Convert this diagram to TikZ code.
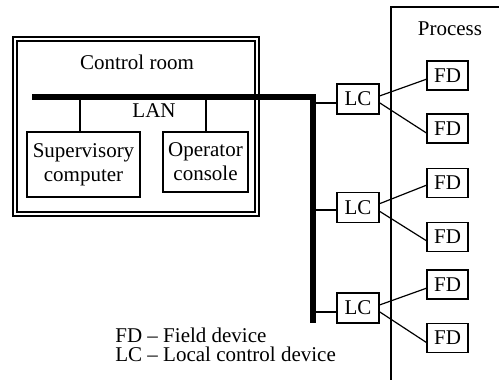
\documentclass[tikz,border=0pt]{standalone}
\usepackage{fontspec}
\setmainfont{Liberation Serif}
\begin{document}
\begin{tikzpicture}[x=0.5pt,y=-0.5pt,
  every node/.style={font=\fontsize{10.5}{12}\selectfont, inner sep=0pt},
  dev/.style={draw, line width=0.6pt, minimum width=#1},
  lcbox/.style={dev=21pt, minimum height=15pt},
  fdbox/.style={dev=20.5pt, minimum height=14.5pt},
  thin/.style={line width=0.6pt},
  lan/.style={line width=2.6pt, line join=miter, line cap=butt}]
\useasboundingbox (0,0) rectangle (499,380);
% control room double frame
\draw[thin] (13,37) rectangle (259,216);
\draw[thin] (17,41) rectangle (255,212);
\node (ctrl) at (137,62) {Control room};
% process frame
\coordinate (pr1) at (505,7);
\coordinate (pr2) at (391,7);
\coordinate (pr3) at (391,385);
\draw[thin] (pr1) -- (pr2) -- (pr3);
\node (proc) at (450,29) {Process};
% computers
\node[dev=56.5pt, minimum height=32.5pt, align=center] (sup) at (83.5,164.5) {Supervisory\\computer};
\node[dev=42.5pt, minimum height=30pt, align=center] (op) at (205.5,162) {Operator\\console};
\node (lanlbl) at (154,111) {LAN};
% LAN
\coordinate (lanL) at (32,97);
\coordinate (lanC) at (313,97);
\coordinate (lanB) at (313,323);
\coordinate (t1) at (80,97);
\coordinate (t2) at (206,97);
\draw[thin] (t1) -- (t1 |- sup.north);
\draw[thin] (t2) -- (t2 |- op.north);
\draw[lan] (lanL) -- (lanC) -- (lanB);
% local controllers
\node[lcbox] (lc1) at (358,99) {LC};
\node[lcbox] (lc2) at (358,207.5) {LC};
\node[lcbox] (lc3) at (358,308) {LC};
\coordinate (b1) at (313,103);
\coordinate (b2) at (313,210);
\coordinate (b3) at (313,312);
\draw[thin] (b1) -- (b1 -| lc1.west);
\draw[thin] (b2) -- (b2 -| lc2.west);
\draw[thin] (b3) -- (b3 -| lc3.west);
% field devices
\node[fdbox] (fd1) at (447.5,75.5) {FD};
\node[fdbox] (fd2) at (447.5,128.5) {FD};
\node[fdbox] (fd3) at (447.5,183) {FD};
\node[fdbox] (fd4) at (447.5,237) {FD};
\node[fdbox] (fd5) at (447.5,284.5) {FD};
\node[fdbox] (fd6) at (447.5,338) {FD};
\draw[thin] (lc1.8) -- (fd1.190);
\draw[thin] (lc1.-10) -- (fd2.192);
\draw[thin] (lc2.10) -- (fd3.186);
\draw[thin] (lc2.-10) -- (fd4.190);
\draw[thin] (lc3.8) -- (fd5.190);
\draw[thin] (lc3.-10) -- (fd6.192);
% legend
\node[anchor=west] (leg1) at (115,335) {FD -- Field device};
\node[anchor=west] (leg2) at (115,354) {LC -- Local control device};
\end{tikzpicture}
\end{document}
